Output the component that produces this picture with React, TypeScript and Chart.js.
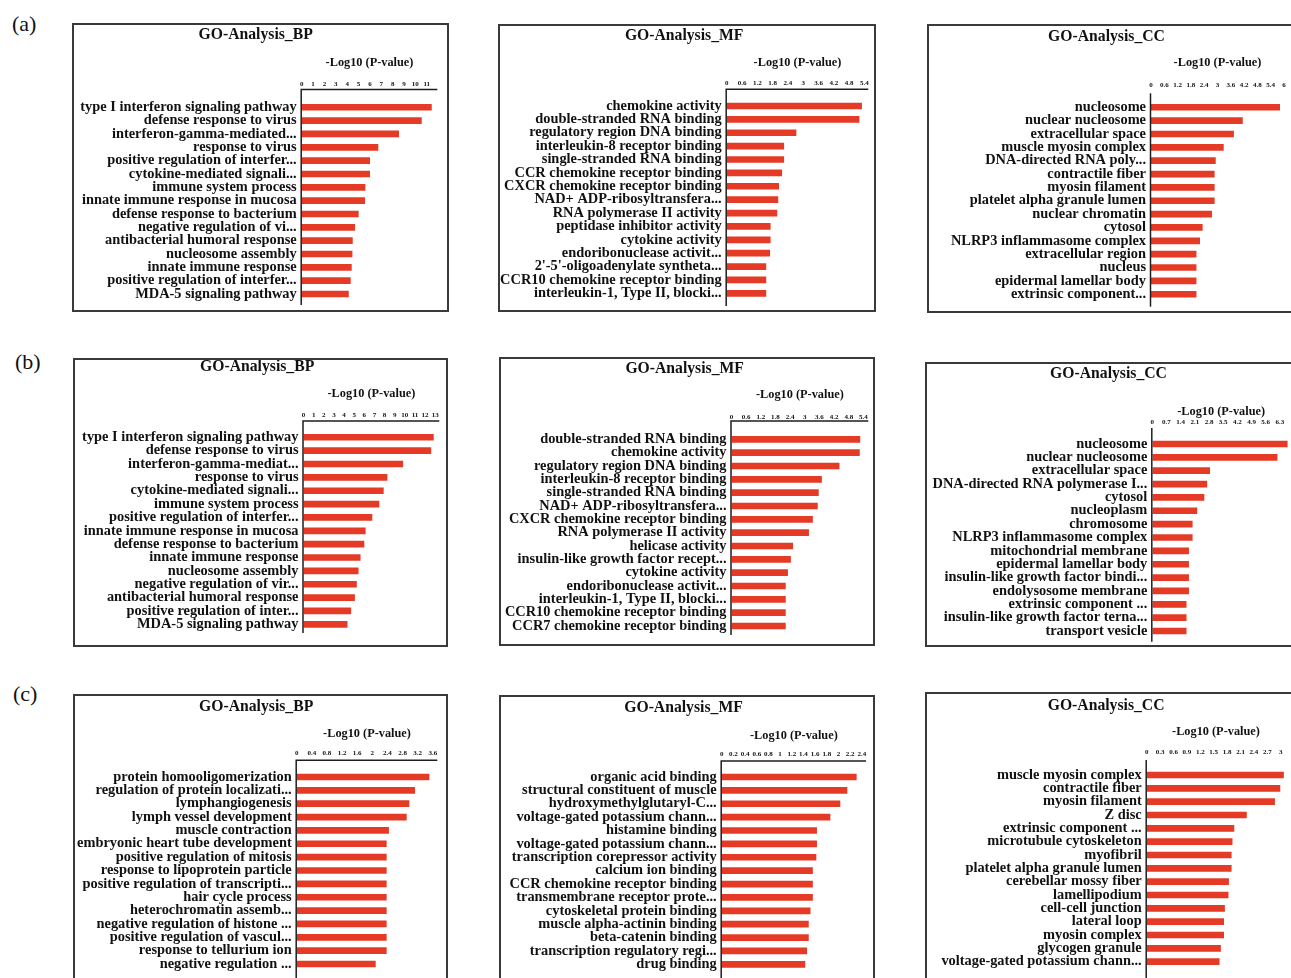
import React, { useEffect, useRef } from "react";
import { Chart, registerables } from "chart.js";

Chart.register(...registerables);

const SERIF = '"Liberation Serif", "Times New Roman", Times, serif';
const BAR_COLOR = "#e43a26";
const INK = "#111111";
const AXIS_TITLE = "-Log10 (P-value)";

// ---------------- (a) ----------------
const aBPLabels = [
  "type I interferon signaling pathway",
  "defense response to virus",
  "interferon-gamma-mediated...",
  "response to virus",
  "positive regulation of interfer...",
  "cytokine-mediated signali...",
  "immune system process",
  "innate immune response in mucosa",
  "defense response to bacterium",
  "negative regulation of vi...",
  "antibacterial humoral response",
  "nucleosome assembly",
  "innate immune response",
  "positive regulation of interfer...",
  "MDA-5 signaling pathway",
];
const aBPValues = [11.44, 10.56, 8.56, 6.74, 6.01, 6.01, 5.6, 5.57, 5.01, 4.69, 4.49, 4.46, 4.4, 4.31, 4.14];
const aBPTicks = { max: 11.93, step: 1 };

const aMFLabels = [
  "chemokine activity",
  "double-stranded RNA binding",
  "regulatory region DNA binding",
  "interleukin-8 receptor binding",
  "single-stranded RNA binding",
  "CCR chemokine receptor binding",
  "CXCR chemokine receptor binding",
  "NAD+ ADP-ribosyltransfera...",
  "RNA polymerase II activity",
  "peptidase inhibitor activity",
  "cytokine activity",
  "endoribonuclease activit...",
  "2'-5'-oligoadenylate syntheta...",
  "CCR10 chemokine receptor binding",
  "interleukin-1, Type II, blocki...",
];
const aMFValues = [5.3, 5.2, 2.73, 2.25, 2.25, 2.17, 2.05, 2.02, 1.98, 1.72, 1.72, 1.7, 1.55, 1.55, 1.55];
const aMFTicks = { max: 5.55, step: 0.6 };

const aCCLabels = [
  "nucleosome",
  "nuclear nucleosome",
  "extracellular space",
  "muscle myosin complex",
  "DNA-directed RNA poly...",
  "contractile fiber",
  "myosin filament",
  "platelet alpha granule lumen",
  "nuclear chromatin",
  "cytosol",
  "NLRP3 inflammasome complex",
  "extracellular region",
  "nucleus",
  "epidermal lamellar body",
  "extrinsic component...",
];
const aCCValues = [5.82, 4.14, 3.74, 3.28, 2.92, 2.87, 2.87, 2.87, 2.75, 2.33, 2.21, 2.05, 2.05, 2.05, 2.05];
const aCCTicks = { max: 6, step: 0.6 };

// ---------------- (b) ----------------
const bBPLabels = [
  "type I interferon signaling pathway",
  "defense response to virus",
  "interferon-gamma-mediat...",
  "response to virus",
  "cytokine-mediated signali...",
  "immune system process",
  "positive regulation of interfer...",
  "innate immune response in mucosa",
  "defense response to bacterium",
  "innate immune response",
  "nucleosome assembly",
  "negative regulation of vir...",
  "antibacterial humoral response",
  "positive regulation of inter...",
  "MDA-5 signaling pathway",
];
const bBPValues = [12.85, 12.6, 9.83, 8.28, 7.91, 7.48, 6.79, 6.13, 6.0, 5.63, 5.43, 5.26, 5.07, 4.7, 4.34];
const bBPTicks = { max: 13.4, step: 1 };

const bMFLabels = [
  "double-stranded RNA binding",
  "chemokine activity",
  "regulatory region DNA binding",
  "interleukin-8 receptor binding",
  "single-stranded RNA binding",
  "NAD+ ADP-ribosyltransfera...",
  "CXCR chemokine receptor binding",
  "RNA polymerase II activity",
  "helicase activity",
  "insulin-like growth factor recept...",
  "cytokine activity",
  "endoribonuclease activit...",
  "interleukin-1, Type II, blocki...",
  "CCR10 chemokine receptor binding",
  "CCR7 chemokine receptor binding",
];
const bMFValues = [5.27, 5.25, 4.42, 3.7, 3.57, 3.53, 3.33, 3.17, 2.52, 2.43, 2.31, 2.22, 2.22, 2.22, 2.22];
const bMFTicks = { max: 5.6, step: 0.6 };

const bCCLabels = [
  "nucleosome",
  "nuclear nucleosome",
  "extracellular space",
  "DNA-directed RNA polymerase I...",
  "cytosol",
  "nucleoplasm",
  "chromosome",
  "NLRP3 inflammasome complex",
  "mitochondrial membrane",
  "epidermal lamellar body",
  "insulin-like growth factor bindi...",
  "endolysosome membrane",
  "extrinsic component ...",
  "insulin-like growth factor terna...",
  "transport vesicle",
];
const bCCValues = [6.68, 6.18, 2.85, 2.71, 2.57, 2.22, 1.99, 1.99, 1.81, 1.81, 1.81, 1.81, 1.69, 1.69, 1.69];
const bCCTicks = { max: 6.8, step: 0.7 };

// ---------------- (c) ----------------
const cBPLabels = [
  "protein homooligomerization",
  "regulation of protein localizati...",
  "lymphangiogenesis",
  "lymph vessel development",
  "muscle contraction",
  "embryonic heart tube development",
  "positive regulation of mitosis",
  "response to lipoprotein particle",
  "positive regulation of transcripti...",
  "hair cycle process",
  "heterochromatin assemb...",
  "negative regulation of histone ...",
  "positive regulation of vascul...",
  "response to tellurium ion",
  "negative regulation ...",
];
const cBPValues = [3.51, 3.13, 2.98, 2.91, 2.44, 2.38, 2.38, 2.38, 2.38, 2.38, 2.38, 2.38, 2.38, 2.38, 2.09];
const cBPTicks = { max: 3.72, step: 0.4 };

const cMFLabels = [
  "organic acid binding",
  "structural constituent of muscle",
  "hydroxymethylglutaryl-C...",
  "voltage-gated potassium chann...",
  "histamine binding",
  "voltage-gated potassium chann...",
  "transcription corepressor activity",
  "calcium ion binding",
  "CCR chemokine receptor binding",
  "transmembrane receptor prote...",
  "cytoskeletal protein binding",
  "muscle alpha-actinin binding",
  "beta-catenin binding",
  "transcription regulatory regi...",
  "drug binding",
];
const cMFValues = [2.31, 2.15, 2.03, 1.86, 1.63, 1.63, 1.62, 1.56, 1.56, 1.56, 1.52, 1.49, 1.49, 1.46, 1.43];
const cMFTicks = { max: 2.47, step: 0.2 };

const cCCLabels = [
  "muscle myosin complex",
  "contractile fiber",
  "myosin filament",
  "Z disc",
  "extrinsic component ...",
  "microtubule cytoskeleton",
  "myofibril",
  "platelet alpha granule lumen",
  "cerebellar mossy fiber",
  "lamellipodium",
  "cell-cell junction",
  "lateral loop",
  "myosin complex",
  "glycogen granule",
  "voltage-gated potassium chann...",
];
const cCCValues = [3.07, 2.99, 2.87, 2.24, 1.96, 1.92, 1.9, 1.9, 1.84, 1.83, 1.75, 1.73, 1.73, 1.66, 1.63];
const cCCTicks = { max: 3.1, step: 0.3 };

// ---------------- layout (page coordinates) ----------------
type Geo = {
  x: number; y: number; w: number; h: number;
  titleY: number; axisTitleY: number; tickY: number;
  lineTop: number; bandTop: number; bandBottom: number; lineBottom: number;
  axisX: number; axisEnd: number; hLine: boolean;
};

const GEO: Record<string, Geo> = {
  aBP: { x: 72, y: 23, w: 377, h: 289, titleY: 35, axisTitleY: 63, tickY: 84, lineTop: 89.5, bandTop: 100.6, bandBottom: 300.7, lineBottom: 305, axisX: 301.7, axisEnd: 437.3, hLine: true },
  aMF: { x: 498, y: 24, w: 378, h: 288, titleY: 36, axisTitleY: 62.7, tickY: 82.7, lineTop: 89.3, bandTop: 99.3, bandBottom: 300, lineBottom: 306, axisX: 726.7, axisEnd: 868.3, hLine: true },
  aCC: { x: 927, y: 24, w: 378, h: 289, titleY: 36.7, axisTitleY: 63.3, tickY: 85, lineTop: 93.3, bandTop: 100.6, bandBottom: 300.9, lineBottom: 306.7, axisX: 1151, axisEnd: 1284, hLine: false },
  bBP: { x: 73, y: 358, w: 375, h: 289, titleY: 367, axisTitleY: 394, tickY: 415, lineTop: 421, bandTop: 430.6, bandBottom: 631, lineBottom: 633, axisX: 303.5, axisEnd: 439.3, hLine: true },
  bMF: { x: 499, y: 357, w: 376, h: 289, titleY: 369.3, axisTitleY: 395, tickY: 416.7, lineTop: 421, bandTop: 432.7, bandBottom: 632.7, lineBottom: 635, axisX: 731.5, axisEnd: 868.3, hLine: true },
  bCC: { x: 925, y: 362, w: 385, h: 285, titleY: 374.3, axisTitleY: 411.7, tickY: 422, lineTop: 428, bandTop: 437.3, bandBottom: 637.7, lineBottom: 641.7, axisX: 1152.3, axisEnd: 1290, hLine: false },
  cBP: { x: 73, y: 694, w: 375, h: 292, titleY: 707, axisTitleY: 733.7, tickY: 752.7, lineTop: 760.3, bandTop: 770.3, bandBottom: 970.7, lineBottom: 982, axisX: 296.7, axisEnd: 437.3, hLine: true },
  cMF: { x: 499, y: 695, w: 376, h: 292, titleY: 708.3, axisTitleY: 735.7, tickY: 754.3, lineTop: 761, bandTop: 770.3, bandBottom: 971, lineBottom: 982, axisX: 721.7, axisEnd: 866, hLine: true },
  cCC: { x: 925, y: 692, w: 377, h: 292, titleY: 705.7, axisTitleY: 731.7, tickY: 751.7, lineTop: 760, bandTop: 768.3, bandBottom: 968.3, lineBottom: 982, axisX: 1146.7, axisEnd: 1285.2, hLine: false },
};

interface PanelDef {
  key: string;
  title: string;
  labels: string[];
  values: number[];
  ticks: { max: number; step: number };
}

const PANELS: PanelDef[] = [
  { key: "aBP", title: "GO-Analysis_BP", labels: aBPLabels, values: aBPValues, ticks: aBPTicks },
  { key: "aMF", title: "GO-Analysis_MF", labels: aMFLabels, values: aMFValues, ticks: aMFTicks },
  { key: "aCC", title: "GO-Analysis_CC", labels: aCCLabels, values: aCCValues, ticks: aCCTicks },
  { key: "bBP", title: "GO-Analysis_BP", labels: bBPLabels, values: bBPValues, ticks: bBPTicks },
  { key: "bMF", title: "GO-Analysis_MF", labels: bMFLabels, values: bMFValues, ticks: bMFTicks },
  { key: "bCC", title: "GO-Analysis_CC", labels: bCCLabels, values: bCCValues, ticks: bCCTicks },
  { key: "cBP", title: "GO-Analysis_BP", labels: cBPLabels, values: cBPValues, ticks: cBPTicks },
  { key: "cMF", title: "GO-Analysis_MF", labels: cMFLabels, values: cMFValues, ticks: cMFTicks },
  { key: "cCC", title: "GO-Analysis_CC", labels: cCCLabels, values: cCCValues, ticks: cCCTicks },
];

const PANEL_TAGS = [
  { text: "(a)", x: 12, y: 13 },
  { text: "(b)", x: 15, y: 351 },
  { text: "(c)", x: 13, y: 683 },
];

const BW = 2;

function GoPanel({ def }: { def: PanelDef }) {
  const ref = useRef<HTMLCanvasElement | null>(null);
  const g = GEO[def.key];
  const cw = g.w - 2 * BW;
  const ch = g.h - 2 * BW;

  useEffect(() => {
    if (!ref.current) return;
    const ox = g.x + BW;
    const oy = g.y + BW;
    const X = (v: number) => v - ox;
    const Y = (v: number) => v - oy;

    const titleSize = 15.7;
    const titleCenter = Y(g.titleY);
    const titleBoxBottom = titleCenter + titleSize / 2;
    const bandTop = Y(g.bandTop);
    const bandBottom = Y(g.bandBottom);
    const axTitleSize = 12.3;
    const tickSize = 7;

    const axisLines = {
      id: "axisLines",
      afterDatasetsDraw(chart: any) {
        const { ctx, chartArea } = chart;
        const x0 = chartArea.left - 0.5;
        ctx.save();
        ctx.strokeStyle = "#1e1e1e";
        ctx.lineWidth = 1.5;
        ctx.beginPath();
        if (g.hLine) {
          ctx.moveTo(chartArea.right, Y(g.lineTop));
          ctx.lineTo(x0, Y(g.lineTop));
        } else {
          ctx.moveTo(x0, Y(g.lineTop));
        }
        ctx.lineTo(x0, Y(g.lineBottom));
        ctx.stroke();
        ctx.restore();
      },
    };

    const chart = new Chart(ref.current, {
      type: "bar",
      data: {
        labels: def.labels,
        datasets: [
          {
            data: def.values,
            backgroundColor: BAR_COLOR,
            borderWidth: 0,
            barPercentage: 0.5,
            categoryPercentage: 1,
          },
        ],
      },
      options: {
        indexAxis: "y",
        responsive: false,
        animation: false,
        devicePixelRatio: 1,
        events: [],
        layout: {
          padding: { left: 0, top: 0, right: cw - X(g.axisEnd), bottom: ch - bandBottom },
        },
        plugins: {
          legend: { display: false },
          tooltip: { enabled: false },
          title: {
            display: true,
            text: def.title,
            color: INK,
            font: { family: SERIF, size: titleSize, weight: "bold", lineHeight: 1 },
            padding: { top: titleCenter - titleSize / 2, bottom: 0 },
          },
        },
        scales: {
          x: {
            position: "top",
            min: 0,
            max: def.ticks.max,
            grid: { display: false, drawTicks: true, tickLength: bandTop - Y(g.tickY) - tickSize / 2 },
            border: { display: false },
            ticks: {
              stepSize: def.ticks.step,
              includeBounds: false,
              autoSkip: false,
              maxRotation: 0,
              minRotation: 0,
              padding: 0,
              color: INK,
              font: { family: SERIF, size: tickSize, weight: "bold", lineHeight: 1 },
              callback: (v: any) => String(Math.round(Number(v) * 100) / 100),
            },
            title: {
              display: true,
              text: AXIS_TITLE,
              color: INK,
              font: { family: SERIF, size: axTitleSize, weight: "bold", lineHeight: 1 },
              padding: { top: Y(g.axisTitleY) - axTitleSize / 2 - titleBoxBottom, bottom: 0 },
            },
            afterFit: (s: any) => {
              s.height = bandTop - titleBoxBottom;
            },
          },
          y: {
            grid: { display: false, drawTicks: true, tickLength: 5 },
            border: { display: false },
            ticks: {
              autoSkip: false,
              padding: 0,
              color: INK,
              font: { family: SERIF, size: 14.4, weight: "bold", lineHeight: 0.5 },
            },
            afterFit: (s: any) => {
              s.width = X(g.axisX);
            },
          },
        },
      },
      plugins: [axisLines],
    } as any);
    return () => chart.destroy();
  }, [def]);

  return (
    <div
      style={{
        position: "absolute",
        left: g.x,
        top: g.y,
        width: g.w,
        height: g.h,
        border: `${BW}px solid #3a3a3a`,
        boxSizing: "border-box",
        background: "#fff",
      }}
    >
      <canvas ref={ref} width={cw} height={ch} style={{ display: "block", width: cw, height: ch }} />
    </div>
  );
}

export default function App() {
  return (
    <div
      style={{
        position: "absolute",
        left: 0,
        top: 0,
        width: 1291,
        height: 978,
        overflow: "hidden",
        background: "#fff",
      }}
    >
      {PANEL_TAGS.map((t) => (
        <div
          key={t.text}
          style={{
            position: "absolute",
            left: t.x,
            top: t.y,
            fontFamily: SERIF,
            fontSize: 22,
            lineHeight: "22px",
            color: INK,
          }}
        >
          {t.text}
        </div>
      ))}
      {PANELS.map((p) => (
        <GoPanel key={p.key} def={p} />
      ))}
    </div>
  );
}
